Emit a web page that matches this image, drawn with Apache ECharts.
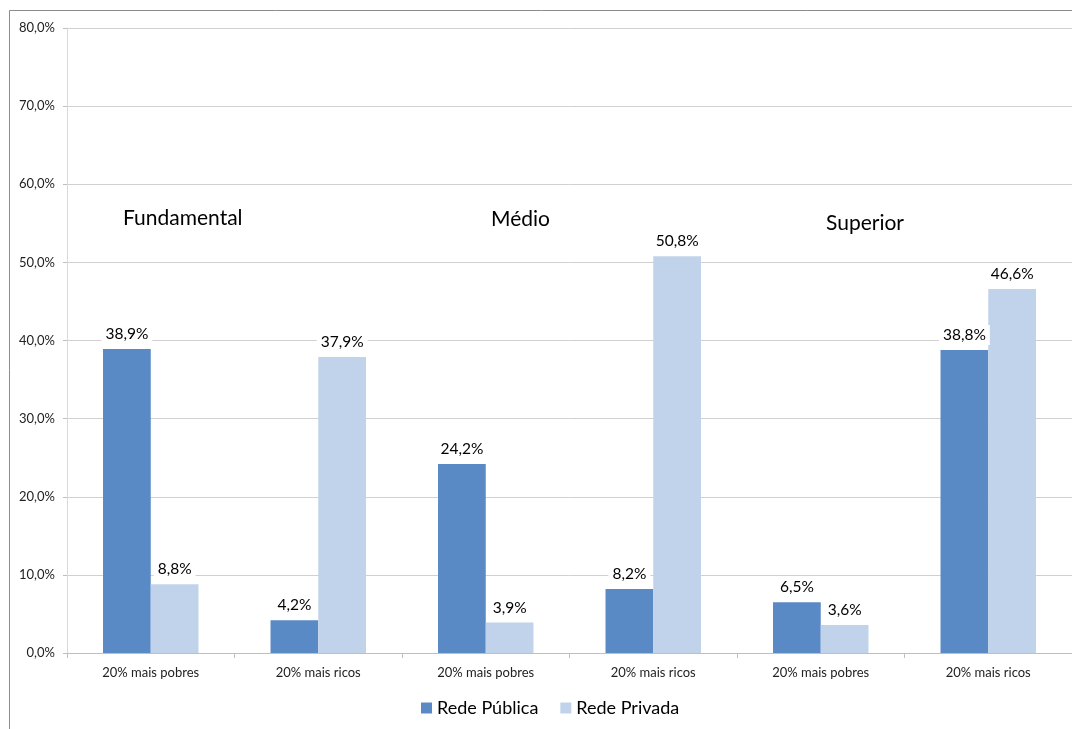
<!DOCTYPE html>
<html><head><meta charset="utf-8">
<script src="https://cdn.jsdelivr.net/npm/echarts@6/dist/echarts.min.js"></script>
<style>html,body{margin:0;padding:0;background:#fff}#c{width:1072px;height:729px}</style>
</head><body><div id="c"></div>
<script>
const categories = ['20% mais pobres','20% mais ricos','20% mais pobres','20% mais ricos','20% mais pobres','20% mais ricos'];
const publica = [38.9, 4.2, 24.2, 8.2, 6.5, 38.8];
const privada = [8.8, 37.9, 3.9, 50.8, 3.6, 46.6];
const groupTitles = ['Fundamental','Médio','Superior'];
const yTicks = [0,10,20,30,40,50,60,70,80];

const FONT = 'Lato, "Open Sans", sans-serif';
const fmt = v => v.toFixed(1).replace('.', ',') + '%';
const chart = echarts.init(document.getElementById('c'));
const labelCfg = {
  show: true, position: 'top', distance: 5,
  formatter: p => fmt(p.value),
  fontFamily: FONT, fontSize: 15.5, color: '#000',
  backgroundColor: '#fff', padding: [2, 4]
};
chart.setOption({
  animation: false,
  grid: { left: 67, right: 0, top: 28, bottom: 76 },
  legend: {
    bottom: 7, left: 416, itemWidth: 11, itemHeight: 11, itemGap: 22,
    icon: 'rect',
    textStyle: { fontFamily: FONT, fontSize: 18, color: '#000' },
    data: ['Rede Pública', 'Rede Privada']
  },
  xAxis: {
    type: 'category', data: categories,
    axisLine: { lineStyle: { color: '#bfbfbf' } },
    axisTick: { show: true, length: 5, lineStyle: { color: '#bfbfbf' } },
    axisLabel: { fontFamily: FONT, fontSize: 13, color: '#222', margin: 13 }
  },
  yAxis: {
    type: 'value', min: yTicks[0], max: yTicks[yTicks.length - 1], interval: 10,
    axisLine: { show: true, lineStyle: { color: '#d9d9d9' } },
    axisTick: { show: true, length: 4, lineStyle: { color: '#bfbfbf' } },
    splitLine: { lineStyle: { color: '#d0d0d0' } },
    axisLabel: { fontFamily: FONT, fontSize: 13, color: '#222', margin: 12,
      formatter: v => v.toFixed(1).replace('.', ',') + '%' }
  },
  series: [
    { name: 'Rede Pública', type: 'bar', data: publica, barGap: '0%', barCategoryGap: '43%',
      itemStyle: { color: '#5A8AC6' }, label: labelCfg },
    { name: 'Rede Privada', type: 'bar', data: privada, barGap: '0%', barCategoryGap: '43%',
      itemStyle: { color: '#C0D3EA' }, label: labelCfg }
  ],
  graphic: [
    { type: 'rect', silent: true, z: 100,
      shape: { x: 9.5, y: 10.5, width: 3000, height: 3000 },
      style: { fill: 'none', stroke: '#8c8c8c', lineWidth: 1 } },
    { type: 'text', left: 123, top: 208, style: { text: groupTitles[0], font: '21px ' + FONT, fill: '#000' } },
    { type: 'text', left: 491, top: 209, style: { text: groupTitles[1], font: '21px ' + FONT, fill: '#000' } },
    { type: 'text', left: 826, top: 213, style: { text: groupTitles[2], font: '21px ' + FONT, fill: '#000' } }
  ]
});
</script></body></html>
